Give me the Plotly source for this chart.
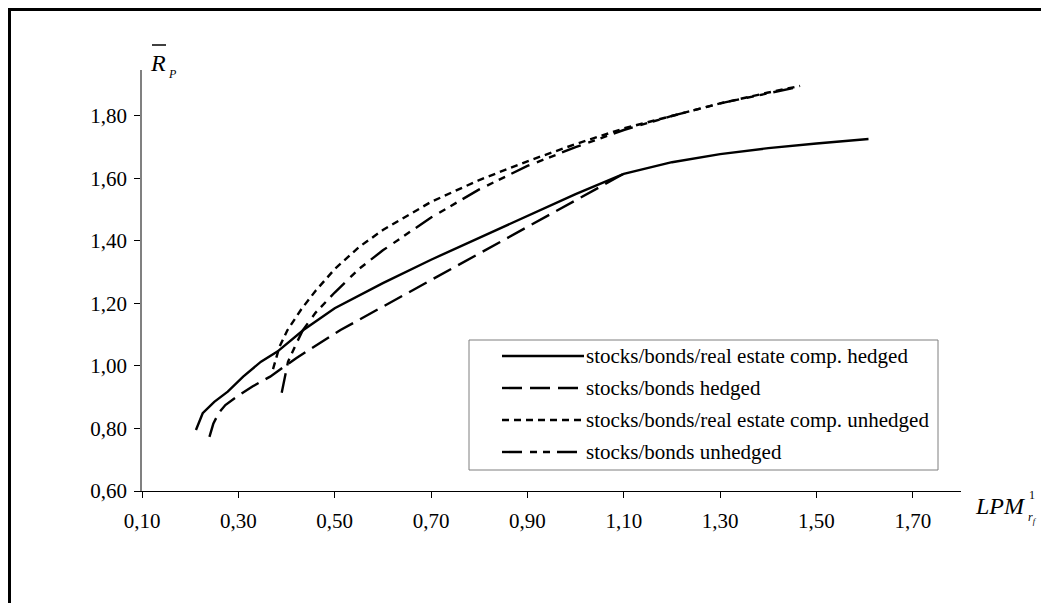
import plotly.graph_objects as go

# ---- data ----
x_ticks = [0.10, 0.30, 0.50, 0.70, 0.90, 1.10, 1.30, 1.50, 1.70]
x_tick_labels = ["0,10", "0,30", "0,50", "0,70", "0,90", "1,10", "1,30", "1,50", "1,70"]
y_ticks = [0.60, 0.80, 1.00, 1.20, 1.40, 1.60, 1.80]
y_tick_labels = ["0,60", "0,80", "1,00", "1,20", "1,40", "1,60", "1,80"]

series_names = [
    "stocks/bonds/real estate comp. hedged",
    "stocks/bonds hedged",
    "stocks/bonds/real estate comp. unhedged",
    "stocks/bonds unhedged",
]

re_hedged_x = [0.212, 0.226, 0.25, 0.278, 0.31, 0.347, 0.381, 0.435, 0.50, 0.60, 0.70, 0.80,
               0.90, 1.00, 1.10, 1.20, 1.30, 1.40, 1.50, 1.608]
re_hedged_y = [0.795, 0.849, 0.885, 0.918, 0.966, 1.014, 1.046, 1.115, 1.185, 1.265, 1.34, 1.41,
               1.48, 1.55, 1.615, 1.652, 1.678, 1.697, 1.712, 1.726]

sb_hedged_x = [0.240, 0.248, 0.259, 0.273, 0.30, 0.33, 0.366, 0.42, 0.512, 0.60, 0.70, 0.80,
               0.90, 1.00, 1.10]
sb_hedged_y = [0.773, 0.815, 0.849, 0.875, 0.905, 0.935, 0.966, 1.025, 1.115, 1.19, 1.275, 1.36,
               1.445, 1.53, 1.615]

re_unhedged_x = [0.372, 0.385, 0.402, 0.43, 0.46, 0.50, 0.55, 0.60, 0.70, 0.80, 0.90, 1.00,
                 1.10, 1.20, 1.30, 1.40, 1.466]
re_unhedged_y = [0.99, 1.06, 1.115, 1.18, 1.24, 1.31, 1.38, 1.435, 1.525, 1.595, 1.655, 1.71,
                 1.76, 1.80, 1.84, 1.875, 1.896]

sb_unhedged_x = [0.390, 0.397, 0.403, 0.421, 0.434, 0.46, 0.50, 0.55, 0.60, 0.70, 0.80, 0.90,
                 1.00, 1.10, 1.20, 1.30, 1.40, 1.46]
sb_unhedged_y = [0.914, 0.97, 1.013, 1.074, 1.115, 1.17, 1.235, 1.31, 1.37, 1.475, 1.565, 1.64,
                 1.70, 1.755, 1.80, 1.84, 1.872, 1.892]

# ---- styles ----
FONT = "Liberation Serif"
dashes = ["solid", "20px,8px", "7px,5px", "20px,8px,7px,6px,7px,7px"]
xs = [re_hedged_x, sb_hedged_x, re_unhedged_x, sb_unhedged_x]
ys = [re_hedged_y, sb_hedged_y, re_unhedged_y, sb_unhedged_y]

OFF = 8  # page body margin
W, H = 1033, 595
L, T = 134, 62
R = W - 953
B = H - 483
PW, PH = W - L - R, H - T - B


def sx(xs_):
    """screen x pixel -> paper x"""
    return (xs_ - OFF - L) / PW


def sy(ys_):
    """screen y pixel -> paper y"""
    return (H - B - (ys_ - OFF)) / PH


fig = go.Figure()
for name, x, y, d in zip(series_names, xs, ys, dashes):
    fig.add_trace(go.Scatter(x=x, y=y, mode="lines", name=name, showlegend=False,
                             line=dict(color="black", width=2.4, dash=d)))

shapes = []
# outer frame (cut at right/bottom as in the reference)
shapes.append(dict(type="rect", xref="paper", yref="paper",
                   x0=sx(9), x1=sx(1100), y0=sy(700), y1=sy(9),
                   line=dict(color="black", width=4), layer="below"))
# legend box
shapes.append(dict(type="rect", xref="paper", yref="paper",
                   x0=sx(469), x1=sx(938), y0=sy(470), y1=sy(340),
                   line=dict(color="#7f7f7f", width=1), fillcolor="white"))
annotations = []
rows = [356, 388, 420, 452]
for name, d, ry in zip(series_names, dashes, rows):
    shapes.append(dict(type="line", xref="paper", yref="paper",
                       x0=sx(502), x1=sx(584), y0=sy(ry), y1=sy(ry),
                       line=dict(color="black", width=2.4, dash=d)))
    annotations.append(dict(xref="paper", yref="paper", x=sx(584), y=sy(ry),
                            xanchor="left", yanchor="middle", showarrow=False,
                            text=name, font=dict(family=FONT, size=21, color="black")))

# y-axis title: R-bar with subscript P
shapes.append(dict(type="line", xref="paper", yref="paper",
                   x0=sx(152), x1=sx(166), y0=sy(45), y1=sy(45),
                   line=dict(color="black", width=1.5)))
annotations.append(dict(xref="paper", yref="paper", x=sx(148), y=sy(63),
                        xanchor="left", yanchor="middle", showarrow=False,
                        text="<i>R</i>", font=dict(family=FONT, size=24, color="black")))
annotations.append(dict(xref="paper", yref="paper", x=sx(166), y=sy(74),
                        xanchor="left", yanchor="middle", showarrow=False,
                        text="<i>P</i>", font=dict(family=FONT, size=12, color="black")))
# x-axis title: LPM^1_{r_f}
annotations.append(dict(xref="paper", yref="paper", x=sx(973), y=sy(506),
                        xanchor="left", yanchor="middle", showarrow=False,
                        text="<i>LPM</i>", font=dict(family=FONT, size=24, color="black")))
annotations.append(dict(xref="paper", yref="paper", x=sx(1027), y=sy(495),
                        xanchor="left", yanchor="middle", showarrow=False,
                        text="1", font=dict(family=FONT, size=12, color="black")))
annotations.append(dict(xref="paper", yref="paper", x=sx(1026), y=sy(518),
                        xanchor="left", yanchor="middle", showarrow=False,
                        text="<i>r<sub>f</sub></i>", font=dict(family=FONT, size=12, color="black")))

fig.update_layout(
    width=W, height=H,
    margin=dict(l=L, r=R, t=T, b=B, pad=0),
    paper_bgcolor="white", plot_bgcolor="white",
    font=dict(family=FONT, size=21, color="black"),
    showlegend=False,
    shapes=shapes, annotations=annotations,
    xaxis=dict(range=[0.10, 1.80], tickvals=x_ticks, ticktext=x_tick_labels,
               showgrid=False, zeroline=False, showline=True, linecolor="black", linewidth=1,
               ticks="outside", ticklen=6, tickcolor="black", tickwidth=1,
               ticklabelstandoff=5),
    yaxis=dict(range=[0.60, 1.947], tickvals=y_ticks, ticktext=y_tick_labels,
               showgrid=False, zeroline=False, showline=True, linecolor="#808080", linewidth=1.5,
               ticks="outside", ticklen=6, tickcolor="black", tickwidth=1,
               ticklabelstandoff=3),
)

fig.write_html("out.html")
